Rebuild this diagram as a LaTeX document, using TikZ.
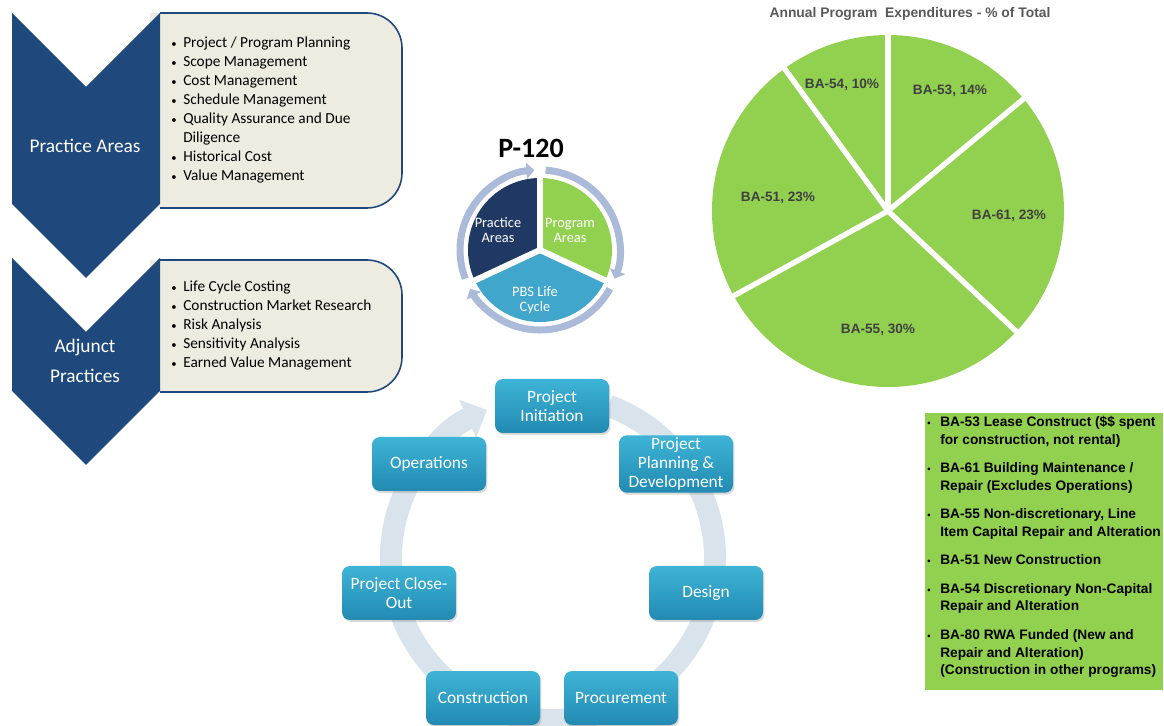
\documentclass[tikz,border=0pt]{standalone}
\usepackage{amsmath}
\usepackage{fontspec}
\setmainfont{Carlito}
\newfontfamily\arialfont{Liberation Sans}
\usepackage{tikz}
\usepackage{xcolor}
\usetikzlibrary{arrows.meta,shadows}

\definecolor{navy}{RGB}{31,73,125}
\definecolor{darknavy}{RGB}{31,56,100}
\definecolor{beige}{RGB}{238,236,225}
\definecolor{leaf}{RGB}{146,208,80}
\definecolor{sky}{RGB}{64,166,204}
\definecolor{ringblue}{RGB}{170,186,216}
\definecolor{pale}{RGB}{216,227,235}
\definecolor{tealtop}{RGB}{62,180,214}
\definecolor{tealbot}{RGB}{34,138,178}
\definecolor{titlegray}{RGB}{89,89,89}
\definecolor{labelgray}{RGB}{64,64,64}

\newcommand{\bul}[1]{\makebox[9pt][l]{\fontsize{8}{8}\selectfont\textbullet}#1}
\newcommand{\lbul}[1]{\makebox[9.75pt][l]{\fontsize{7}{7}\selectfont\textbullet}#1}

\begin{document}
\begin{tikzpicture}[x=0.75pt,y=0.75pt,
    chev/.style={fill=navy},
    listbox/.style={fill=beige},
    listedge/.style={draw=navy,line width=1.2pt},
    chevlabel/.style={text=white,align=center,font=\fontsize{14.5}{22.5}\selectfont},
    listtext/.style={anchor=north west,inner sep=0pt,align=left,font=\fontsize{11.5}{14.25}\selectfont},
    gap/.style={white,line width=4.5pt},
    ringarrow/.style={draw=ringblue,line width=5.25pt,-{Triangle[width=12pt,length=6pt]}},
    sectorlabel/.style={text=white,align=center,font=\fontsize{10.8}{11.25}\selectfont},
    pielabel/.style={text=labelgray,font=\arialfont\bfseries\fontsize{10.2}{12}\selectfont},
    legtext/.style={anchor=north west,inner sep=0pt,align=left,font=\arialfont\bfseries\fontsize{10.3}{13.2}\selectfont},
    phase/.style={rounded corners=6pt,minimum width=85.5pt,minimum height=40.5pt,inner sep=2pt,
        top color=tealtop,bottom color=tealbot,text=white,align=center,font=\fontsize{13}{14}\selectfont,
        drop shadow={opacity=0.3,shadow xshift=1pt,shadow yshift=-1.5pt}}]
    \useasboundingbox (0,0) rectangle (1164,725);

    % practice areas and adjunct practices
    \fill[listbox] (150,712) -- (367,712) arc (90:0:35) -- (402,552) arc (0:-90:35) -- (150,517) -- cycle;
    \draw[listedge] (160,712) -- (367,712) arc (90:0:35) -- (402,552) arc (0:-90:35) -- (160,517);
    \fill[listbox] (150,465) -- (367,465) arc (90:0:35) -- (402,368) arc (0:-90:35) -- (150,333) -- cycle;
    \draw[listedge] (160,465) -- (367,465) arc (90:0:35) -- (402,368) arc (0:-90:35) -- (160,333);
    \fill[chev] (12,712) -- (86,638) -- (160,712) -- (160,521) -- (86,447) -- (12,521) -- cycle;
    \fill[chev] (12,467) -- (86,393) -- (160,467) -- (160,334) -- (86,260) -- (12,334) -- cycle;
    \node[chevlabel] (practice) at (85,579) {Practice Areas};
    \node[chevlabel] (adjunct) at (85,364) {Adjunct\\Practices};
    \node[listtext] (practice list) at (171,688) {\bul{Project / Program Planning}\\
        \bul{Scope Management}\\ \bul{Cost Management}\\ \bul{Schedule Management}\\
        \bul{Quality Assurance and Due}\\ \hspace*{9pt}Diligence\\ \bul{Historical Cost}\\
        \bul{Value Management}};
    \node[listtext] (adjunct list) at (171,444) {\bul{Life Cycle Costing}\\
        \bul{Construction Market Research}\\ \bul{Risk Analysis}\\ \bul{Sensitivity Analysis}\\
        \bul{Earned Value Management}};

    % P-120
    \coordinate (hub) at (540,475);
    \fill[darknavy] (hub) -- ++(90:72) arc (90:205:72) -- cycle;
    \fill[leaf] (hub) -- ++(-25:72) arc (-25:90:72) -- cycle;
    \fill[sky] (hub) -- ++(205:72) arc (205:335:72) -- cycle;
    \foreach \a in {90,205,-25}
        \draw[gap] (hub) -- ++(\a:76);
    \draw[ringarrow] (hub) ++(201:80) arc (201:94:80);
    \draw[ringarrow] (hub) ++(86:80) arc (86:-21:80);
    \draw[ringarrow] (hub) ++(-29:80) arc (-29:-151:80);
    \node[font=\bfseries\fontsize{21}{24}\selectfont] (p120) at (531,577) {P-120};
    \node[sectorlabel] (sec practice) at (498,495) {Practice\\Areas};
    \node[sectorlabel] (sec program) at (570,495) {Program\\Areas};
    \node[sectorlabel] (sec life) at (535,425) {PBS Life\\Cycle};

    % expenditures pie
    \coordinate (pie) at (888,514);
    \fill[leaf] (pie) circle (176);
    \foreach \a in {90,39.6,-43.2,-151.2,126}
        \draw[gap,line width=4pt] (pie) -- ++(\a:182);
    \node[text=titlegray,font=\arialfont\bfseries\fontsize{10.4}{12}\selectfont] (pie title) at (910,711)
        {Annual Program\ \ Expenditures - \% of Total};
    \node[pielabel] (ba54) at (842,640) {BA-54, 10\%};
    \node[pielabel] (ba53) at (950,634) {BA-53, 14\%};
    \node[pielabel] (ba51) at (778,527) {BA-51, 23\%};
    \node[pielabel] (ba61) at (1009,509) {BA-61, 23\%};
    \node[pielabel] (ba55) at (878,395) {BA-55, 30\%};

    \fill[leaf] (925,312) rectangle (1163,35);
    \node[legtext] (legend) at (927,309) {\lbul{BA-53 Lease Construct (\$\$ spent}\\
        \hspace*{9.75pt}for construction, not rental)\\[8.2pt]
        \lbul{BA-61 Building Maintenance /}\\ \hspace*{9.75pt}Repair (Excludes Operations)\\[8.2pt]
        \lbul{BA-55 Non-discretionary, Line}\\ \hspace*{9.75pt}Item Capital Repair and Alteration\\[8.2pt]
        \lbul{BA-51 New Construction}\\[8.2pt]
        \lbul{BA-54 Discretionary Non-Capital}\\ \hspace*{9.75pt}Repair and Alteration\\[8.2pt]
        \lbul{BA-80 RWA Funded (New and}\\ \hspace*{9.75pt}Repair and Alteration)\\
        \hspace*{9.75pt}(Construction in other programs)};

    % life cycle
    \coordinate (loop) at (553,167);
    \draw[pale,line width=16.5pt,-{Triangle[width=30pt,length=16pt]}] (loop) ++(70:162) arc (70:-246:162);
    \node[phase] (init) at (552,319) {Project\\Initiation};
    \node[phase] (plan) at (676,261) {Project\\Planning \&\\Development};
    \node[phase] (design) at (706,132) {Design};
    \node[phase] (procure) at (621,27) {Procurement};
    \node[phase] (build) at (483,27) {Construction};
    \node[phase] (closeout) at (399,132) {Project Close-\\Out};
    \node[phase] (ops) at (429,261) {Operations};
\end{tikzpicture}
\end{document}
